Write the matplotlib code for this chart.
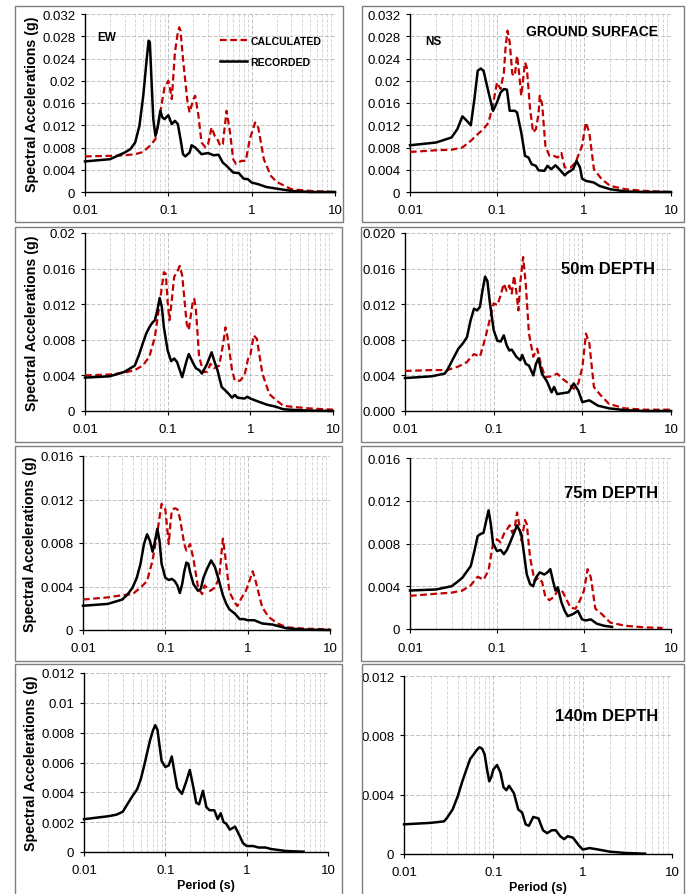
import matplotlib
matplotlib.use("Agg")
import matplotlib.pyplot as plt
from matplotlib.patches import Rectangle
from matplotlib.ticker import FixedLocator, FixedFormatter, LogLocator, NullFormatter

plt.rcParams['font.family'] = ['Liberation Sans', 'DejaVu Sans']

RED = '#C00000'

# ---- ground surface, EW ----
t_gs_ew_rec = [0.01, 0.02, 0.03, 0.035, 0.04, 0.045, 0.05, 0.055, 0.058, 0.06, 0.063, 0.066, 0.07, 0.075,
               0.08, 0.085, 0.09, 0.1, 0.11, 0.12, 0.13, 0.14, 0.15, 0.16, 0.18, 0.19, 0.21, 0.25, 0.3,
               0.35, 0.4, 0.45, 0.5, 0.6, 0.7, 0.8, 0.9, 1.0, 1.2, 1.5, 2, 3, 5, 10]
sa_gs_ew_rec = [0.0055, 0.0059, 0.0071, 0.0077, 0.0089, 0.0119, 0.0173, 0.0239, 0.0272, 0.0269, 0.0197,
                0.0131, 0.0101, 0.0119, 0.0146, 0.0134, 0.0131, 0.0138, 0.0122, 0.0128, 0.0122, 0.0095,
                0.0068, 0.0064, 0.0071, 0.0084, 0.0080, 0.0068, 0.0070, 0.0066, 0.0067, 0.0053, 0.0047,
                0.0035, 0.0034, 0.0024, 0.0023, 0.0017, 0.0014, 0.0009, 0.0006, 0.0002, 0.0, 0.0]
t_gs_ew_cal = [0.01, 0.02, 0.03, 0.04, 0.05, 0.06, 0.07, 0.08, 0.09, 0.1, 0.105, 0.11, 0.12, 0.13, 0.135,
               0.14, 0.15, 0.17, 0.18, 0.2, 0.21, 0.23, 0.25, 0.28, 0.3, 0.33, 0.36, 0.38, 0.42, 0.45,
               0.5, 0.55, 0.6, 0.65, 0.75, 0.85, 0.95, 1.1, 1.2, 1.4, 1.7, 2, 3, 5, 10]
sa_gs_ew_cal = [0.0064, 0.0065, 0.0066, 0.0068, 0.0072, 0.0083, 0.0095, 0.0143, 0.0188, 0.0200, 0.0185,
                0.0167, 0.0251, 0.0287, 0.0296, 0.0290, 0.0239, 0.0161, 0.0143, 0.0167, 0.0173, 0.0137,
                0.0089, 0.0080, 0.0086, 0.0116, 0.0101, 0.0098, 0.0083, 0.0086, 0.0146, 0.0107, 0.0059,
                0.0050, 0.0056, 0.0056, 0.0095, 0.0125, 0.0116, 0.0059, 0.0029, 0.0018, 0.0005, 0.0002, 0.0]

# ---- ground surface, NS ----
t_gs_ns_rec = [0.01, 0.02, 0.03, 0.035, 0.04, 0.045, 0.05, 0.055, 0.06, 0.065, 0.07, 0.08, 0.09, 0.1,
               0.11, 0.12, 0.13, 0.14, 0.16, 0.17, 0.19, 0.21, 0.23, 0.25, 0.28, 0.3, 0.35, 0.38, 0.42,
               0.47, 0.52, 0.6, 0.65, 0.75, 0.82, 0.9, 0.95, 1.05, 1.3, 1.5, 2, 3, 5, 10]
sa_gs_ns_rec = [0.0084, 0.0089, 0.0098, 0.0113, 0.0136, 0.0128, 0.0120, 0.0167, 0.0218, 0.0222, 0.0218,
                0.0179, 0.0146, 0.0161, 0.0179, 0.0185, 0.0184, 0.0146, 0.0146, 0.0143, 0.0107, 0.0065,
                0.0062, 0.0050, 0.0047, 0.0039, 0.0038, 0.0047, 0.0041, 0.0048, 0.0041, 0.0030, 0.0035,
                0.0041, 0.0056, 0.0044, 0.0024, 0.0020, 0.0017, 0.0011, 0.0005, 0.0001, 0.0, 0.0]
t_gs_ns_cal = [0.01, 0.02, 0.03, 0.04, 0.05, 0.06, 0.07, 0.08, 0.09, 0.1, 0.11, 0.12, 0.125, 0.132, 0.14,
               0.15, 0.16, 0.17, 0.18, 0.19, 0.21, 0.22, 0.24, 0.26, 0.28, 0.3, 0.31, 0.33, 0.36, 0.4,
               0.45, 0.5, 0.55, 0.6, 0.7, 0.8, 0.95, 1.05, 1.15, 1.3, 1.6, 2, 3, 5, 10]
sa_gs_ns_cal = [0.0072, 0.0075, 0.0076, 0.0080, 0.0092, 0.0104, 0.0113, 0.0125, 0.0158, 0.0197, 0.0185,
                0.0215, 0.0257, 0.0290, 0.0269, 0.0212, 0.0209, 0.0245, 0.0212, 0.0173, 0.0233, 0.0224,
                0.0149, 0.0107, 0.0113, 0.0140, 0.0173, 0.0158, 0.0083, 0.0065, 0.0065, 0.0062, 0.0070,
                0.0044, 0.0044, 0.0053, 0.0083, 0.0125, 0.0107, 0.0041, 0.0023, 0.0011, 0.0005, 0.0002, 0.0]

# ---- 50m depth, EW ----
t_50_ew_rec = [0.01, 0.02, 0.03, 0.04, 0.045, 0.05, 0.055, 0.06, 0.065, 0.07, 0.075, 0.08, 0.085, 0.09,
               0.1, 0.11, 0.12, 0.13, 0.14, 0.15, 0.17, 0.18, 0.2, 0.22, 0.24, 0.26, 0.3, 0.34, 0.37,
               0.4, 0.45, 0.5, 0.55, 0.6, 0.65, 0.7, 0.85, 0.92, 1.0, 1.3, 1.6, 2, 2.5, 3, 5, 10]
sa_50_ew_rec = [0.00375, 0.0039, 0.0044, 0.0051, 0.0063, 0.0076, 0.0087, 0.0094, 0.0099, 0.0102, 0.0113,
                0.0127, 0.0117, 0.0094, 0.0068, 0.0056, 0.0059, 0.0055, 0.0046, 0.0038, 0.0057, 0.0064,
                0.0055, 0.0048, 0.0046, 0.0042, 0.0053, 0.0066, 0.0055, 0.0046, 0.0027, 0.0023, 0.0019,
                0.0015, 0.0018, 0.0015, 0.0014, 0.0016, 0.0014, 0.0010, 0.0007, 0.0005, 0.0002, 0.00015,
                0.00005, 0.0]
t_50_ew_cal = [0.01, 0.02, 0.03, 0.04, 0.05, 0.06, 0.07, 0.08, 0.09, 0.095, 0.1, 0.105, 0.11, 0.12, 0.13,
               0.14, 0.15, 0.16, 0.17, 0.18, 0.2, 0.21, 0.22, 0.24, 0.27, 0.3, 0.33, 0.36, 0.42, 0.47,
               0.5, 0.53, 0.6, 0.65, 0.75, 0.85, 0.95, 1.0, 1.1, 1.2, 1.4, 1.7, 2, 2.5, 3, 5, 10]
sa_50_ew_cal = [0.0040, 0.0041, 0.0043, 0.0046, 0.0051, 0.0061, 0.0083, 0.0121, 0.0156, 0.0154, 0.0122,
                0.0102, 0.0117, 0.0151, 0.0156, 0.0163, 0.0152, 0.0124, 0.0098, 0.0091, 0.0121, 0.0126,
                0.0113, 0.0061, 0.0044, 0.0044, 0.0053, 0.0048, 0.0051, 0.0076, 0.0094, 0.0083, 0.0046,
                0.0034, 0.0034, 0.0040, 0.0061, 0.0063, 0.0085, 0.0081, 0.0042, 0.0019, 0.0013, 0.0006,
                0.0005, 0.0003, 0.00015]

# ---- 50m depth, NS ----
t_50_ns_rec = [0.01, 0.02, 0.028, 0.03, 0.035, 0.04, 0.045, 0.05, 0.055, 0.06, 0.065, 0.07, 0.075, 0.08,
               0.085, 0.09, 0.1, 0.11, 0.12, 0.13, 0.14, 0.15, 0.16, 0.18, 0.2, 0.21, 0.23, 0.25, 0.28,
               0.3, 0.32, 0.35, 0.4, 0.45, 0.48, 0.52, 0.6, 0.7, 0.8, 0.9, 1.0, 1.2, 1.5, 2, 3, 5, 10]
sa_50_ns_rec = [0.0037, 0.0039, 0.0042, 0.0046, 0.0059, 0.0070, 0.0076, 0.0083, 0.0102, 0.0115, 0.0113,
                0.0117, 0.0136, 0.0151, 0.0146, 0.0124, 0.0091, 0.0079, 0.0078, 0.0085, 0.0074, 0.0068,
                0.0069, 0.0061, 0.0057, 0.0063, 0.0053, 0.0051, 0.0040, 0.0053, 0.0059, 0.0042, 0.0033,
                0.0021, 0.0027, 0.0019, 0.0020, 0.0021, 0.0031, 0.0023, 0.0010, 0.0012, 0.0006, 0.0003,
                0.0001, 0.0, 0.0]
t_50_ns_cal = [0.01, 0.02, 0.03, 0.04, 0.05, 0.055, 0.06, 0.07, 0.08, 0.09, 0.1, 0.11, 0.12, 0.13, 0.14,
               0.15, 0.16, 0.17, 0.18, 0.19, 0.2, 0.215, 0.23, 0.25, 0.28, 0.31, 0.34, 0.38, 0.45, 0.52,
               0.6, 0.7, 0.8, 0.9, 1.0, 1.1, 1.2, 1.35, 1.6, 2, 3, 5, 10]
sa_50_ns_cal = [0.0045, 0.0046, 0.0046, 0.0050, 0.0055, 0.0060, 0.0064, 0.0061, 0.0081, 0.0102, 0.0121,
                0.0119, 0.0130, 0.0143, 0.0135, 0.0141, 0.0132, 0.0152, 0.0134, 0.0113, 0.0145, 0.0173,
                0.0143, 0.0087, 0.0061, 0.0070, 0.0053, 0.0038, 0.0039, 0.0042, 0.0036, 0.0031, 0.0025,
                0.0031, 0.0049, 0.0087, 0.0076, 0.0027, 0.0018, 0.0008, 0.0003, 0.00015, 0.00015]

# ---- 75m depth, EW ----
t_75_ew_rec = [0.01, 0.02, 0.03, 0.035, 0.04, 0.045, 0.05, 0.055, 0.06, 0.065, 0.07, 0.075, 0.08, 0.085,
               0.09, 0.1, 0.11, 0.12, 0.13, 0.14, 0.15, 0.16, 0.17, 0.18, 0.19, 0.2, 0.22, 0.25, 0.27,
               0.29, 0.32, 0.36, 0.4, 0.45, 0.5, 0.55, 0.6, 0.7, 0.8, 0.9, 1.0, 1.2, 1.5, 2, 3, 5, 10]
sa_75_ew_rec = [0.00223, 0.0024, 0.0028, 0.0033, 0.0039, 0.0048, 0.0061, 0.0079, 0.0088, 0.0082, 0.0072,
                0.0082, 0.0093, 0.0082, 0.0061, 0.0048, 0.0046, 0.0047, 0.0045, 0.0041, 0.0034, 0.0042,
                0.0054, 0.0062, 0.0061, 0.0053, 0.0042, 0.0036, 0.0038, 0.0048, 0.0056, 0.0064, 0.0058,
                0.0045, 0.0032, 0.0024, 0.0019, 0.0015, 0.0010, 0.0010, 0.0009, 0.0009, 0.0006, 0.0005,
                0.00015, 0.00003, 0.0]
t_75_ew_cal = [0.01, 0.02, 0.03, 0.04, 0.05, 0.06, 0.07, 0.08, 0.09, 0.1, 0.11, 0.115, 0.12, 0.13, 0.14,
               0.15, 0.17, 0.18, 0.2, 0.22, 0.25, 0.28, 0.3, 0.35, 0.4, 0.45, 0.5, 0.53, 0.6, 0.7, 0.75,
               0.85, 0.95, 1.05, 1.15, 1.25, 1.5, 1.8, 2.3, 3, 5, 10]
sa_75_ew_cal = [0.0028, 0.0030, 0.0032, 0.0033, 0.0039, 0.0045, 0.0064, 0.0090, 0.0116, 0.0111, 0.0079,
                0.0097, 0.0110, 0.0112, 0.0111, 0.0103, 0.0079, 0.0073, 0.0079, 0.0065, 0.0039, 0.0033,
                0.0041, 0.0036, 0.0039, 0.0048, 0.0084, 0.0070, 0.0035, 0.0025, 0.0022, 0.0030, 0.0036,
                0.0045, 0.0054, 0.0045, 0.0021, 0.0012, 0.0006, 0.00025, 0.00012, 0.00006]

# ---- 75m depth, NS ----
t_75_ns_rec = [0.01, 0.02, 0.03, 0.035, 0.04, 0.05, 0.055, 0.06, 0.065, 0.07, 0.075, 0.08, 0.085, 0.09,
               0.1, 0.11, 0.12, 0.13, 0.14, 0.15, 0.17, 0.19, 0.2, 0.22, 0.24, 0.26, 0.28, 0.31, 0.35,
               0.38, 0.41, 0.44, 0.47, 0.5, 0.55, 0.6, 0.65, 0.75, 0.85, 0.95, 1.05, 1.2, 1.4, 1.7, 2.1]
sa_75_ns_rec = [0.0036, 0.0037, 0.0040, 0.0044, 0.0048, 0.0059, 0.0073, 0.0087, 0.0089, 0.0090, 0.0101,
                0.0111, 0.0098, 0.0080, 0.0073, 0.0074, 0.0070, 0.0074, 0.0080, 0.0086, 0.0097, 0.0089,
                0.0076, 0.0051, 0.0042, 0.0040, 0.0048, 0.0053, 0.0051, 0.0053, 0.0056, 0.0045, 0.0036,
                0.0039, 0.0025, 0.0017, 0.0012, 0.0014, 0.0017, 0.0009, 0.0008, 0.0009, 0.0005, 0.0003,
                0.0002]
t_75_ns_cal = [0.01, 0.02, 0.03, 0.04, 0.05, 0.06, 0.07, 0.08, 0.09, 0.1, 0.11, 0.12, 0.14, 0.15, 0.16,
               0.17, 0.18, 0.19, 0.2, 0.21, 0.22, 0.24, 0.27, 0.3, 0.33, 0.36, 0.4, 0.45, 0.5, 0.55,
               0.6, 0.7, 0.8, 0.9, 1.0, 1.1, 1.2, 1.35, 1.6, 2, 3, 5, 8]
sa_75_ns_cal = [0.0031, 0.0033, 0.0034, 0.0036, 0.0041, 0.0049, 0.0046, 0.0055, 0.0080, 0.0084, 0.0081,
                0.0089, 0.0097, 0.0090, 0.0095, 0.0109, 0.0098, 0.0083, 0.0092, 0.0102, 0.0098, 0.0067,
                0.0045, 0.0048, 0.0044, 0.0030, 0.0027, 0.0030, 0.0036, 0.0037, 0.0031, 0.0020, 0.0019,
                0.0027, 0.0036, 0.0056, 0.0048, 0.0019, 0.0014, 0.0006, 0.0003, 0.00015, 0.0001]

# ---- 140m depth (recorded only) ----
t_140_ew_rec = [0.01, 0.02, 0.025, 0.03, 0.035, 0.04, 0.045, 0.05, 0.055, 0.06, 0.065, 0.07, 0.075, 0.08,
                0.085, 0.09, 0.1, 0.11, 0.12, 0.13, 0.14, 0.16, 0.18, 0.2, 0.22, 0.24, 0.26, 0.29, 0.32,
                0.35, 0.4, 0.44, 0.48, 0.52, 0.56, 0.62, 0.72, 0.8, 0.9, 1.0, 1.2, 1.4, 1.7, 2, 3, 5]
sa_140_ew_rec = [0.0022, 0.0024, 0.0025, 0.0027, 0.0033, 0.0038, 0.0042, 0.0049, 0.0058, 0.0067, 0.0075,
                 0.0081, 0.0085, 0.0082, 0.0071, 0.0061, 0.0057, 0.0058, 0.0064, 0.0053, 0.0043, 0.0039,
                 0.0047, 0.0055, 0.0044, 0.0033, 0.0032, 0.0041, 0.0030, 0.0028, 0.0028, 0.0022, 0.0026,
                 0.0020, 0.0019, 0.0015, 0.0017, 0.0012, 0.0006, 0.0004, 0.0004, 0.0003, 0.0003, 0.0002,
                 0.00007, 0.00002]
t_140_ns_rec = [0.01, 0.02, 0.028, 0.03, 0.035, 0.04, 0.045, 0.05, 0.055, 0.06, 0.065, 0.07, 0.075, 0.08,
                0.085, 0.09, 0.095, 0.1, 0.11, 0.12, 0.13, 0.14, 0.15, 0.17, 0.19, 0.21, 0.23, 0.25, 0.28,
                0.32, 0.36, 0.4, 0.45, 0.5, 0.56, 0.62, 0.68, 0.78, 0.9, 1.0, 1.2, 1.5, 2, 3, 5]
sa_140_ns_rec = [0.0020, 0.0021, 0.0022, 0.0024, 0.0030, 0.0039, 0.0049, 0.0057, 0.0064, 0.0067, 0.0070,
                 0.0072, 0.0071, 0.0067, 0.0057, 0.0049, 0.0052, 0.0057, 0.0060, 0.0055, 0.0045, 0.0043,
                 0.0046, 0.0041, 0.0030, 0.0028, 0.0020, 0.0019, 0.0025, 0.0024, 0.0016, 0.0014, 0.0016,
                 0.0016, 0.0012, 0.0010, 0.0012, 0.0011, 0.0006, 0.0003, 0.0004, 0.0003, 0.00016, 0.00007,
                 0.00002]

# y ticks per panel
yt_032 = [0, 0.004, 0.008, 0.012, 0.016, 0.02, 0.024, 0.028, 0.032]
yl_032 = ['0', '0.004', '0.008', '0.012', '0.016', '0.02', '0.024', '0.028', '0.032']
yt_020 = [0, 0.004, 0.008, 0.012, 0.016, 0.02]
yl_020a = ['0', '0.004', '0.008', '0.012', '0.016', '0.02']
yl_020b = ['0.000', '0.004', '0.008', '0.012', '0.016', '0.020']
yt_016 = [0, 0.004, 0.008, 0.012, 0.016]
yl_016 = ['0', '0.004', '0.008', '0.012', '0.016']
yt_012a = [0, 0.002, 0.004, 0.006, 0.008, 0.01, 0.012]
yl_012a = ['0', '0.002', '0.004', '0.006', '0.008', '0.01', '0.012']
yt_012b = [0, 0.004, 0.008, 0.012]
yl_012b = ['0', '0.004', '0.008', '0.012']

xt = [0.01, 0.1, 1, 10]
xl = ['0.01', '0.1', '1', '10']

W, H = 688, 895
fig = plt.figure(figsize=(W / 100, H / 100), dpi=100)

# panel frames (pixels: left, top, right, bottom)
frames = [(15, 7, 343, 223), (362, 7, 684, 223),
          (15, 228, 342, 443), (361, 228, 684, 443),
          (15, 447, 342, 662), (361, 447, 684, 662),
          (15, 665, 342, 900), (362, 665, 684, 900)]
for l, t, r, b in frames:
    fig.patches.append(Rectangle((l / W, 1 - b / H), (r - l) / W, (b - t) / H,
                                 transform=fig.transFigure, fill=False,
                                 edgecolor='#7f7f7f', linewidth=1.0))


def make_axes(l, t, r, b):
    return fig.add_axes([l / W, 1 - b / H, (r - l) / W, (b - t) / H])


def style(ax, yt, yl, ylabel=False, xlabel=False):
    ax.set_xscale('log')
    ax.set_xlim(0.01, 10)
    ax.set_ylim(yt[0], yt[-1])
    ax.xaxis.set_major_locator(FixedLocator(xt))
    ax.xaxis.set_major_formatter(FixedFormatter(xl))
    ax.xaxis.set_minor_locator(LogLocator(base=10, subs=range(2, 10)))
    ax.xaxis.set_minor_formatter(NullFormatter())
    ax.yaxis.set_major_locator(FixedLocator(yt))
    ax.yaxis.set_major_formatter(FixedFormatter(yl))
    ax.grid(True, which='major', color='#bfbfbf', linestyle=(0, (4, 2)), linewidth=0.7)
    ax.grid(True, which='minor', axis='x', color='#cfcfcf', linestyle=(0, (4, 2)), linewidth=0.6)
    ax.set_axisbelow(True)
    for s in ['top', 'right']:
        ax.spines[s].set_visible(False)
    for s in ['left', 'bottom']:
        ax.spines[s].set_color('black')
        ax.spines[s].set_linewidth(1.0)
    ax.tick_params(axis='both', which='major', direction='out', length=3, labelsize=9.5, pad=4)
    ax.tick_params(axis='x', which='minor', length=0)
    ax.tick_params(axis='x', which='major', pad=6)
    if ylabel:
        ax.set_ylabel('Spectral Accelerations (g)', fontsize=10.3, fontweight='bold', labelpad=2)
    if xlabel:
        ax.set_xlabel('Period (s)', fontsize=9, fontweight='bold', labelpad=2)


def draw(ax, t_rec, sa_rec, t_cal=None, sa_cal=None):
    if t_cal is not None:
        ax.plot(t_cal, sa_cal, color=RED, linestyle=(0, (3, 1.6)), linewidth=1.6,
                label='CALCULATED', clip_on=False, zorder=3)
    ax.plot(t_rec, sa_rec, color='black', linewidth=1.8, label='RECORDED',
            clip_on=False, zorder=4)


ax1 = make_axes(85, 15, 335, 193)
style(ax1, yt_032, yl_032, ylabel=True)
draw(ax1, t_gs_ew_rec, sa_gs_ew_rec, t_gs_ew_cal, sa_gs_ew_cal)
ax1.text(0.05, 0.87, 'EW', transform=ax1.transAxes, fontsize=8.5, fontweight='bold',
         ha='left', va='center')
leg = ax1.legend(loc='upper left', bbox_to_anchor=(0.5, 0.93), frameon=False,
                 handlelength=2.6, handletextpad=0.35, labelspacing=1.05,
                 prop={'size': 7.6, 'weight': 'bold'})

ax2 = make_axes(410, 15, 671, 193)
style(ax2, yt_032, yl_032)
draw(ax2, t_gs_ns_rec, sa_gs_ns_rec, t_gs_ns_cal, sa_gs_ns_cal)
ax2.text(0.06, 0.85, 'NS', transform=ax2.transAxes, fontsize=8.5, fontweight='bold',
         ha='left', va='center')
ax2.text(0.95, 0.905, 'GROUND SURFACE', transform=ax2.transAxes, fontsize=10,
         fontweight='bold', ha='right', va='center')

ax3 = make_axes(85, 234, 333, 412)
style(ax3, yt_020, yl_020a, ylabel=True)
draw(ax3, t_50_ew_rec, sa_50_ew_rec, t_50_ew_cal, sa_50_ew_cal)

ax4 = make_axes(405, 234, 671, 412)
style(ax4, yt_020, yl_020b)
draw(ax4, t_50_ns_rec, sa_50_ns_rec, t_50_ns_cal, sa_50_ns_cal)
ax4.text(0.94, 0.8, '50m DEPTH', transform=ax4.transAxes, fontsize=12,
         fontweight='bold', ha='right', va='center')

ax5 = make_axes(83, 457, 330, 631)
style(ax5, yt_016, yl_016, ylabel=True)
draw(ax5, t_75_ew_rec, sa_75_ew_rec, t_75_ew_cal, sa_75_ew_cal)

ax6 = make_axes(410, 459, 671, 630)
style(ax6, yt_016, yl_016)
draw(ax6, t_75_ns_rec, sa_75_ns_rec, t_75_ns_cal, sa_75_ns_cal)
ax6.text(0.95, 0.8, '75m DEPTH', transform=ax6.transAxes, fontsize=12,
         fontweight='bold', ha='right', va='center')

ax7 = make_axes(84, 674, 328, 853)
style(ax7, yt_012a, yl_012a, ylabel=True, xlabel=True)
draw(ax7, t_140_ew_rec, sa_140_ew_rec)

ax8 = make_axes(404, 677, 672, 855)
style(ax8, yt_012b, yl_012b, xlabel=True)
draw(ax8, t_140_ns_rec, sa_140_ns_rec)
ax8.text(0.95, 0.78, '140m DEPTH', transform=ax8.transAxes, fontsize=12,
         fontweight='bold', ha='right', va='center')

fig.savefig('out.png', dpi=100)
